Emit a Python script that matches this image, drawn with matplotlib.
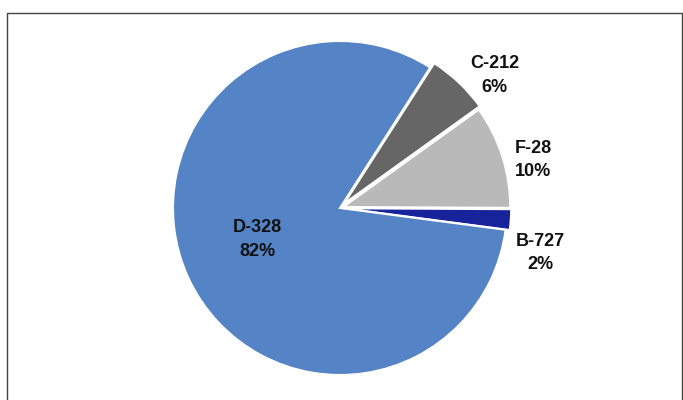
import matplotlib.pyplot as plt
from matplotlib.patches import Rectangle
import numpy as np

plt.rcParams['font.family'] = ['Liberation Sans', 'DejaVu Sans']

# slices listed counter-clockwise, starting just below the 3 o'clock position
names = ['B-727', 'F-28', 'C-212', 'D-328']
shares = [2, 10, 6, 82]
colors = ['#16239a', '#b9b9b9', '#666666', '#5483c6']
explode = [0.025, 0.02, 0.035, 0.0]

fig = plt.figure(figsize=(6.83, 4.0), dpi=100)
fig.patch.set_facecolor('white')

# thin frame around the chart area (open at the bottom, like the scan)
fig.patches.append(Rectangle((7 / 683, -0.05), 1 - 8 / 683, 1.05 - 13 / 400,
                             transform=fig.transFigure, fill=False,
                             edgecolor='#444444', linewidth=1.0))

ax = fig.add_axes([(340 - 167) / 683, (400 - 208 - 167) / 400, 334 / 683, 334 / 400])
wedges, _ = ax.pie(shares, colors=colors, explode=explode, startangle=-7.5,
                   counterclock=True, radius=1.0,
                   wedgeprops=dict(edgecolor='white', linewidth=1.5))
ax.set_xlim(-1, 1)
ax.set_ylim(-1, 1)
ax.set_aspect('equal')
ax.axis('off')

# label positions as (angle in degrees, distance in pie radii)
label_pos = {'B-727': (-12.7, 1.23), 'F-28': (14.0, 1.19),
             'C-212': (40.6, 1.22), 'D-328': (201.0, 0.53)}
for name, share in zip(names, shares):
    ang, dist = label_pos[name]
    x = dist * np.cos(np.radians(ang))
    y = dist * np.sin(np.radians(ang))
    ax.text(x, y, f'{name}\n{share}%', ha='center', va='center',
            fontsize=13, fontweight='bold', color='#111111', linespacing=1.5,
            clip_on=False)

fig.savefig('out.png', dpi=100)
